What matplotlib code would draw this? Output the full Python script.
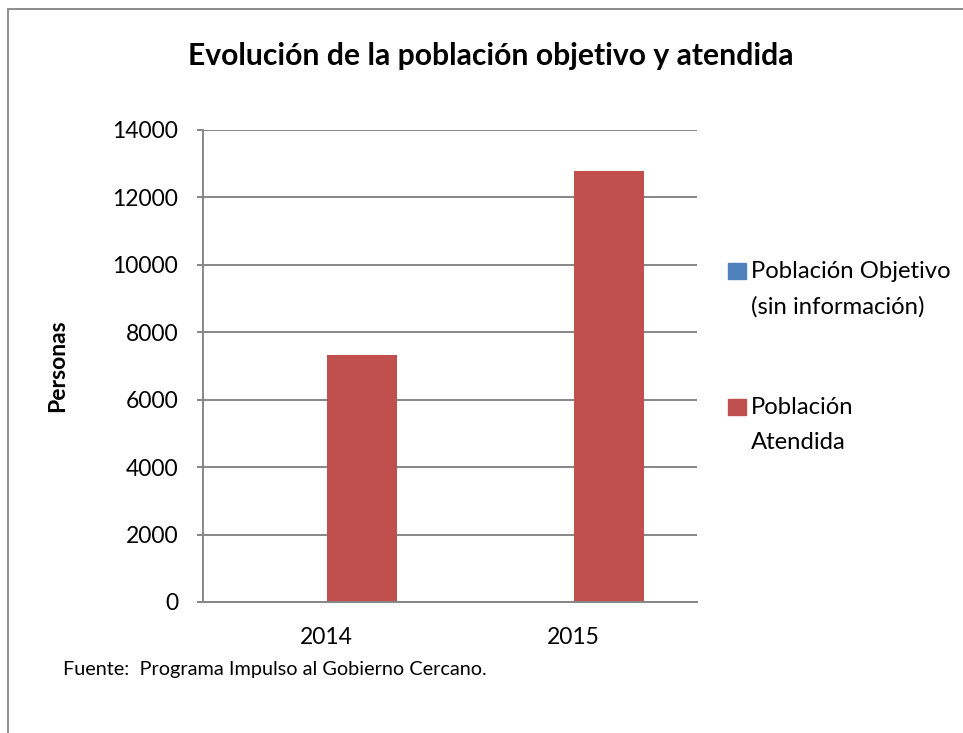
import matplotlib.pyplot as plt
from matplotlib.patches import Rectangle
import numpy as np

plt.rcParams['font.family'] = ['Lato', 'DejaVu Sans']

# data
years = ['2014', '2015']
objetivo = [0, 0]          # sin información
atendida = [7320, 12780]
series_names = ['Población Objetivo\n(sin información)', 'Población\nAtendida']
series_colors = ['#4F81BD', '#C0504D']
y_ticks = [0, 2000, 4000, 6000, 8000, 10000, 12000, 14000]

W, H = 963, 733
fig = plt.figure(figsize=(W / 100, H / 100), dpi=100)

# outer chart border (cut by the image on the right and bottom)
fig.patches.append(Rectangle((8 / W, -0.1), 1.2, 1 - 9 / H + 0.1,
                             transform=fig.transFigure, fill=False,
                             edgecolor='#8C8C8C', linewidth=1.4))

ax = fig.add_axes([203 / W, 1 - 602 / H, (697 - 203) / W, (602 - 130) / H])

x = np.arange(len(years))
width = 0.285
ax.bar(x - width / 2, objetivo, width, color=series_colors[0])
ax.bar(x + width / 2, atendida, width, color=series_colors[1])

ax.set_xlim(-0.5, 1.5)
ax.set_ylim(0, 14000)
ax.set_yticks(y_ticks)
ax.set_yticklabels([str(v) for v in y_ticks], fontsize=16.5)
ax.set_xticks(x)
ax.set_xticklabels(years, fontsize=16.5)
ax.yaxis.grid(True, color='#868686', linewidth=1.4)
ax.set_axisbelow(True)
for s in ['top', 'right']:
    ax.spines[s].set_visible(False)
for s in ['left', 'bottom']:
    ax.spines[s].set_color('#868686')
    ax.spines[s].set_linewidth(1.4)
ax.tick_params(axis='y', length=4, width=1.4, color='#868686', pad=14)
ax.tick_params(axis='x', length=0, pad=18)

ax.set_ylabel('Personas', fontsize=16.5, fontweight='bold')
ax.yaxis.set_label_coords(-(203 - 68) / (697 - 203), 0.5)

fig.text(490.5 / W, 1 - 56 / H, 'Evolución de la población objetivo y atendida',
         ha='center', va='center', fontsize=21.7, fontweight='bold')

# legend drawn by hand so the swatch sits on the first text line
leg_y = [271, 407]
for name, col, yc in zip(series_names, series_colors, leg_y):
    fig.patches.append(Rectangle((728 / W, 1 - (yc + 8) / H), 18 / W, 16 / H,
                                 transform=fig.transFigure, color=col))
    fig.text(751 / W, 1 - (yc - 10) / H, name, ha='left', va='top',
             fontsize=17.2, linespacing=1.8)

fig.text(63 / W, 1 - 670 / H, 'Fuente:  Programa Impulso al Gobierno Cercano.',
         ha='left', va='center', fontsize=14.3)

fig.savefig('out.png', dpi=100)
